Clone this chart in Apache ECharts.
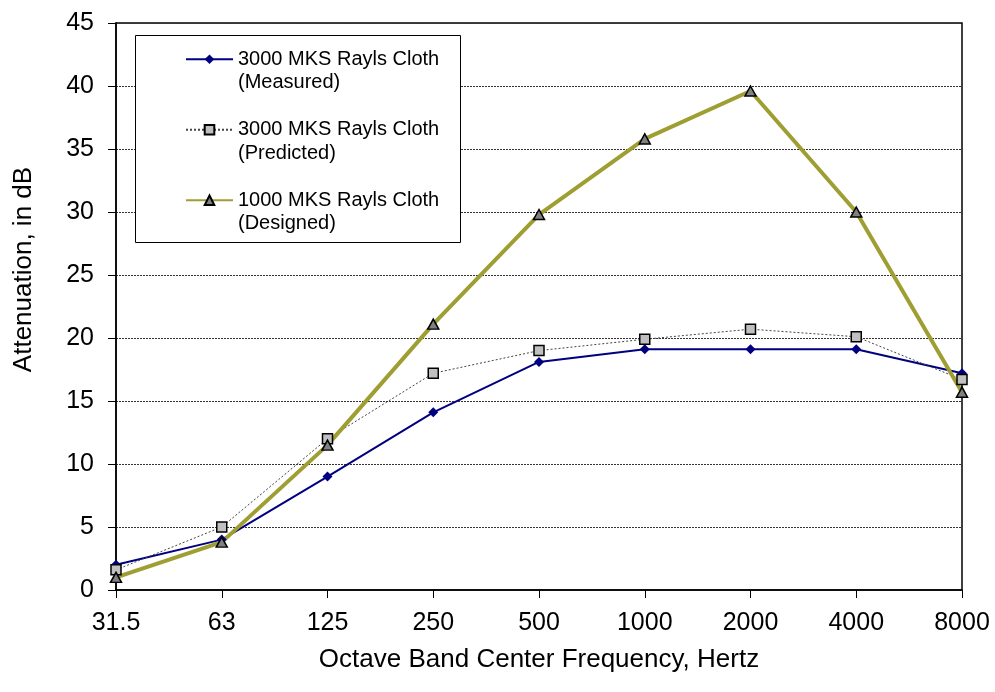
<!DOCTYPE html>
<html>
<head>
<meta charset="utf-8">
<script src="https://cdn.jsdelivr.net/npm/echarts@6/dist/echarts.min.js"></script>
<style>
  html, body { margin: 0; padding: 0; background: #fff; }
  #chart { width: 995px; height: 692px; }
</style>
</head>
<body>
<div id="chart"></div>
<script>
// octave band centre frequencies
const frequencies = ['31.5', '63', '125', '250', '500', '1000', '2000', '4000', '8000']

// attenuation in dB
const measured3000 = [2.0, 4.0, 9.0, 14.1, 18.1, 19.1, 19.1, 19.1, 17.2]
const predicted3000 = [1.6, 5.0, 12.0, 17.2, 19.0, 19.9, 20.7, 20.1, 16.7]
const designed1000 = [1.0, 3.8, 11.5, 21.1, 29.8, 35.8, 39.6, 30.0, 15.7]

const seriesNames = [
  '3000 MKS Rayls Cloth\n(Measured)',
  '3000 MKS Rayls Cloth\n(Predicted)',
  '1000 MKS Rayls Cloth\n(Designed)'
]

const font = '"Liberation Sans", Arial, sans-serif'

const chart = echarts.init(document.getElementById('chart'))

const option = {
  animation: false,
  backgroundColor: '#fff',
  textStyle: { fontFamily: font, color: '#000' },
  grid: {
    left: 116,
    right: 33,
    top: 23,
    bottom: 102,
    show: true,
    borderColor: '#000',
    borderWidth: 1.5,
    backgroundColor: 'transparent'
  },
  // legend frame
  graphic: [
    {
      type: 'rect',
      left: 135,
      top: 35,
      shape: { width: 325, height: 207 },
      style: { fill: '#fff', stroke: '#000', lineWidth: 1 },
      z: 3
    }
  ],
  legend: {
    orient: 'vertical',
    left: 185,
    top: 24,
    padding: 0,
    itemWidth: 47,
    itemHeight: 12,
    itemGap: 0,
    z: 4,
    data: seriesNames,
    // blank first line so the icon sits beside the first text line
    formatter: name => ' \n' + name,
    textStyle: {
      fontFamily: font,
      fontSize: 20,
      lineHeight: 23.5,
      color: '#000'
    }
  },
  xAxis: {
    type: 'category',
    data: frequencies,
    boundaryGap: false,
    name: 'Octave Band Center Frequency, Hertz',
    nameLocation: 'middle',
    nameGap: 57,
    nameTextStyle: { fontSize: 26, color: '#000', fontFamily: font },
    axisLine: { lineStyle: { color: '#000', width: 1.5 } },
    axisTick: { show: true, inside: false, length: 8, alignWithLabel: true, lineStyle: { color: '#000' } },
    axisLabel: { fontSize: 25, color: '#000', margin: 21, fontFamily: font },
    splitLine: { show: false }
  },
  yAxis: {
    type: 'value',
    min: 0,
    max: 45,
    interval: 5,
    name: 'Attenuation, in dB',
    nameLocation: 'middle',
    nameGap: 79,
    nameTextStyle: { fontSize: 26, color: '#000', fontFamily: font, padding: [0, 0, 0, 74] },
    axisLine: { show: true, lineStyle: { color: '#000', width: 1.5 } },
    axisTick: { show: true, inside: false, length: 8, lineStyle: { color: '#000' } },
    axisLabel: { fontSize: 25, color: '#000', margin: 22, fontFamily: font },
    splitLine: { show: true, lineStyle: { color: '#333', type: [2, 1], width: 1 } }
  },
  series: [
    {
      name: seriesNames[0],
      type: 'line',
      data: measured3000,
      symbol: 'diamond',
      symbolSize: 10,
      lineStyle: { color: '#000080', width: 2 },
      itemStyle: { color: '#000080', borderWidth: 0 }
    },
    {
      name: seriesNames[1],
      type: 'line',
      data: predicted3000,
      symbol: 'rect',
      symbolSize: 10,
      lineStyle: { color: '#444', width: 1, type: [2, 2] },
      itemStyle: { color: '#c0c0c0', borderColor: '#000', borderWidth: 1.5 }
    },
    {
      name: seriesNames[2],
      type: 'line',
      data: designed1000,
      symbol: 'triangle',
      symbolSize: [11, 10],
      lineStyle: { color: '#9e9e32', width: 4 },
      itemStyle: { color: '#808080', borderColor: '#000', borderWidth: 1.5 }
    }
  ]
}

chart.setOption(option)
</script>
</body>
</html>
